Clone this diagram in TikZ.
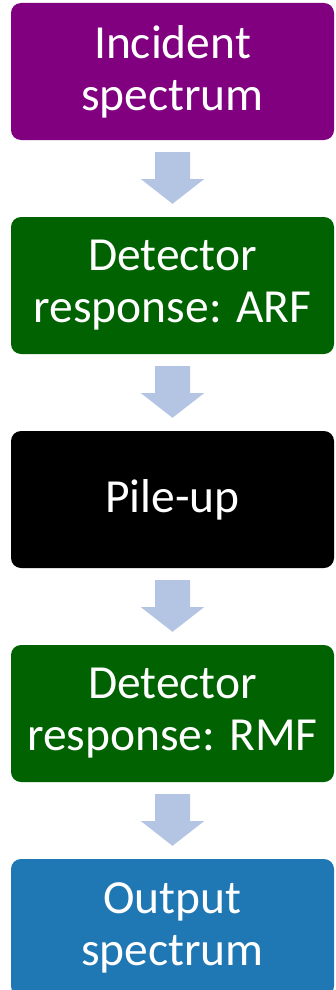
\documentclass[tikz,border=0pt]{standalone}
\usepackage{fontspec}
\setmainfont{Carlito}
\usetikzlibrary{calc}
\definecolor{stagepurple}{RGB}{128,0,128}
\definecolor{stagegreen}{RGB}{0,98,0}
\definecolor{stageblue}{RGB}{31,119,180}
\definecolor{flowarrow}{RGB}{180,197,227}
\tikzset{
  stage/.style={rounded corners=10pt, minimum width=323pt, minimum height=137pt,
    inner sep=0pt, align=center, text=white,
    font=\fontsize{47.5}{52}\selectfont},
  flowfill/.style={fill=flowarrow, draw=none}
}
\begin{document}
\begin{tikzpicture}[x=1pt, y=-1pt]
  \useasboundingbox (0,0) rectangle (335,990);
  \clip (0,0) rectangle (335,990);
  \node[stage, fill=stagepurple] (incident) at (172.5, 71.5) {Incident\\spectrum};
  \node[stage, fill=stagegreen]  (arf)      at (172.5, 285.5) {Detector\\response: ARF};
  \node[stage, fill=black]       (pileup)   at (172.5, 499.5) {Pile-up};
  \node[stage, fill=stagegreen]  (rmf)      at (172.5, 713.5) {Detector\\response: RMF};
  \node[stage, fill=stageblue]   (output)   at (172.5, 927.5) {Output\\spectrum};
  % block arrows between consecutive stages
  \foreach \a/\b in {incident/arf, arf/pileup, pileup/rmf, rmf/output}{
    \fill[flowfill]
      ($(\a.south)+(-17.5,12)$) -- ($(\a.south)+(17.5,12)$) --
      ($(\a.south)+(17.5,39)$) -- ($(\a.south)+(31.5,39)$) --
      ($(\b.north)+(0,-13)$) --
      ($(\a.south)+(-31.5,39)$) -- ($(\a.south)+(-17.5,39)$) -- cycle;
  }
\end{tikzpicture}
\end{document}
